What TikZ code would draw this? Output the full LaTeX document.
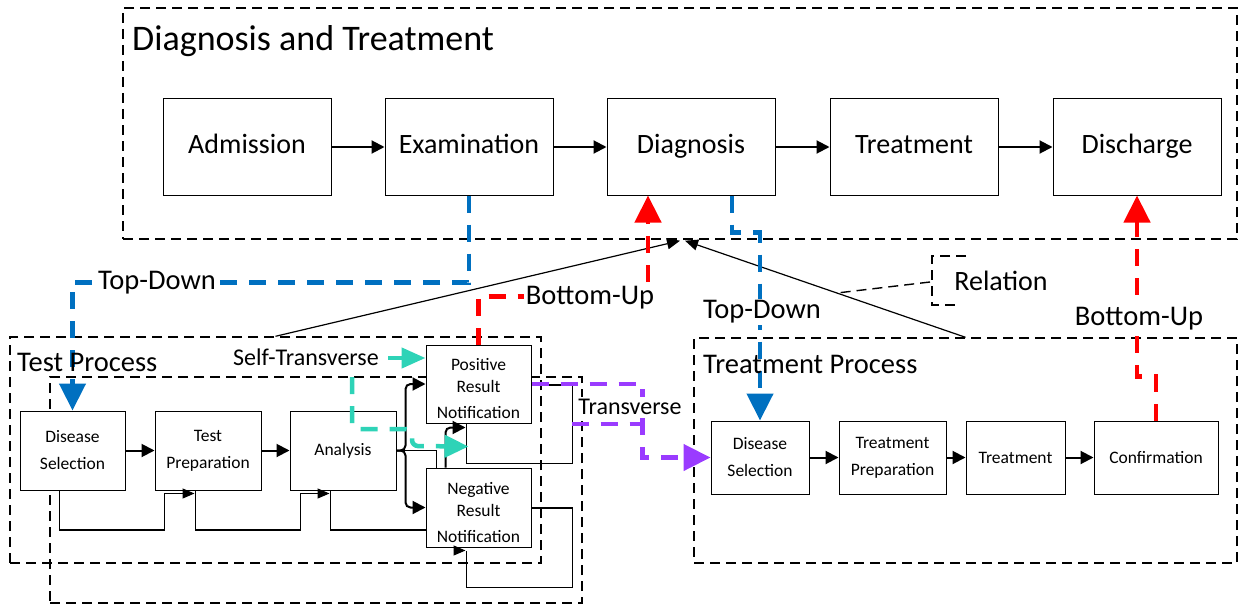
\documentclass[tikz,border=0pt]{standalone}
\usepackage{fontspec}
\setmainfont{Carlito}
\usetikzlibrary{arrows.meta,calc}
\definecolor{tdblue}{HTML}{0070C0}
\definecolor{bured}{HTML}{FF0000}
\definecolor{stcyan}{HTML}{2ED3B7}
\definecolor{trpurple}{HTML}{9A3BFF}
\begin{document}
\begin{tikzpicture}[x=1pt,y=-1pt,
  grp/.style={draw, line width=1.4pt, dash pattern=on 10pt off 6pt, inner sep=0pt},
  big/.style={draw, fill=white, line width=1pt, minimum width=168pt, minimum height=96pt, inner sep=0pt, text height=18pt, text depth=6pt, font=\fontsize{28}{32}\selectfont},
  sm/.style={draw, fill=white, line width=1pt, inner sep=0pt, align=center, font=\fontsize{17.5}{27}\selectfont},
  lab/.style={fill=white, inner sep=2pt, font=\fontsize{28.5}{32}\selectfont},
  labs/.style={fill=white, inner sep=2pt, font=\fontsize{24}{28}\selectfont},
  flow/.style={line width=2pt, -{Triangle[length=13pt,width=13pt]}},
  fb/.style={line width=1.2pt},
  fbt/.style={line width=1.2pt, -{Triangle[length=12pt,width=10pt]}},
  cdash/.style={line width=4.5pt, dash pattern=on 17pt off 12pt, -{Triangle[length=27pt,width=26pt]}},
]
\useasboundingbox (0,0) rectangle (1238,607);

% group boxes
\node[grp, minimum width=1114pt, minimum height=231pt] (dt) at (680,123.5) {};
\node[grp, minimum width=532pt, minimum height=226pt] (tp2) at (316,490) {};
\node[grp, minimum width=531pt, minimum height=226pt] (tp) at (275.5,450) {};
\node[grp, minimum width=543pt, minimum height=225pt] (trp) at (965.5,450.5) {};

% top row
\node[big] (adm) at (247,147) {Admission};
\node[big] (exam) at (469,147) {Examination};
\node[big] (diag) at (691,147) {Diagnosis};
\node[big] (treat) at (914,147) {Treatment};
\node[big] (disc) at (1137,147) {Discharge};

% test process
\node[sm, minimum width=105pt, minimum height=79pt] (ds) at (72.5,450.5) {Disease\\Selection};
\node[sm, minimum width=106pt, minimum height=79pt] (tprep) at (208,450.5) {Test\\Preparation};
\node[sm, minimum width=106pt, minimum height=79pt] (an) at (343,450.5) {Analysis};
\node[sm, minimum width=105pt, minimum height=78pt, font=\fontsize{17.5}{22}\selectfont] (pos) at (478.5,384) {\rule{0pt}{22pt}Positive\\Result\\[4pt]Notification};
\node[sm, minimum width=105pt, minimum height=79pt, font=\fontsize{17.5}{22}\selectfont] (neg) at (478.5,507.5) {\rule{0pt}{22pt}Negative\\Result\\[4pt]Notification};

% treatment process
\node[sm, minimum width=98pt, minimum height=73pt] (tds) at (760,457.5) {Disease\\Selection};
\node[sm, minimum width=107pt, minimum height=73pt] (trprep) at (892.5,457.5) {Treatment\\Preparation};
\node[sm, minimum width=99pt, minimum height=73pt] (trt) at (1015.5,457.5) {Treatment};
\node[sm, minimum width=124pt, minimum height=73pt] (conf) at (1156,457.5) {Confirmation};

% top flow
\draw[flow] (adm) -- (exam);
\draw[flow] (exam) -- (diag);
\draw[flow] (diag) -- (treat);
\draw[flow] (treat) -- (disc);

% treatment flow
\draw[flow] (tds) -- (trprep);
\draw[flow] (trprep) -- (trt);
\draw[flow] (trt) -- (conf);

% test flow
\draw[flow] (ds) -- (tprep);
\draw[flow] (tprep) -- (an);
\draw[flow, rounded corners=5pt] (an.east) -- ++(9,0) |- (pos.west);
\draw[flow, rounded corners=5pt] (an.east) -- ++(9,0) |- (neg.west);
\draw[fb] (an.east) -| ($(neg.north west)+(11,0)$);
\draw[flow, rounded corners=5pt] ($(neg.north west)+(20,0)$) -- ++(0,-40) -- ++(20,0);

% feedback loops
\draw[fbt] ($(ds.south west)+(40,0)$) -- ++(0,39.5) -| ($(tprep.south west)+(10,3)$) -- ++(30,0);
\draw[fbt] ($(tprep.south west)+(41,0)$) -- ++(0,39.5) -| ($(an.south west)+(11,3)$) -- ++(29,0);
\draw[fb] ($(an.south west)+(41,0)$) -- ++(0,39.5) -- (neg.west |- 0,530);
\draw[fb] ($(pos.east)+(0,1)$) -- ++(41,0) |- ($(pos.south west)+(41,40)$) -- ($(pos.south west)+(41,0)$);
\draw[fb] (neg.east |- 0,508) -- ++(41,0) |- ($(neg.south west)+(41,40)$) -- ($(neg.south west)+(41,3)$);
\draw[fbt] ($(neg.south west)+(28,3)$) -- ($(neg.south west)+(40,3)$);

% relation lines
\coordinate (c1) at ($(dt.south)+(0,1)$);
\coordinate (c2) at ($(dt.south)+(5,1)$);
\draw[line width=1.2pt, -{Triangle[length=13pt,width=11pt]}] (tp.north) -- (c1);
\draw[line width=1.2pt, -{Triangle[length=13pt,width=11pt]}] (trp.north) -- (c2);

% colored connectors
\draw[cdash, tdblue] (exam.south) -- ++(0,87) -| (ds.north);
\draw[cdash, tdblue] ($(diag.south)+(41,0)$) -- ++(0,37) -| (tds.north);
\draw[cdash, bured] (pos.north) -- ++(0,-48) -| ($(diag.south)+(-43,0)$);
\draw[cdash, bured] (conf.north) -- ++(0,-44) -| (disc.south);
\draw[cdash, trpurple] (pos.east) -- ++(111,0) |- (tds.west);
\draw[line width=4.5pt, dash pattern=on 17pt off 12pt, trpurple] ($(pos.east)+(40,40)$) -- ++(71,0);
\draw[line width=4.5pt, stcyan, -{Triangle[length=24pt,width=20pt]}] (388,358) -- (pos.west |- 0,358);
\draw[line width=4.5pt, stcyan, dash pattern=on 17pt off 12pt, rounded corners=6pt, -{Triangle[length=24pt,width=22pt]}] (352,377) -- (352,429) -- (412,429) -- (412,446) -- ($(pos.south west)+(43,23)$);

% relation bracket
\draw[line width=1.4pt, dash pattern=on 10pt off 6pt] (966,256) -- (932,256) -- (932,305) -- (960,305);
\node[font=\fontsize{28}{32}\selectfont, inner sep=0pt] (rel) at (1001,281) {Relation};
\draw[line width=1.4pt, dash pattern=on 10pt off 6pt] (930,282) -- (837,293);

% labels
\node[anchor=west, inner sep=0pt, font=\fontsize{36}{40}\selectfont] (ttl) at (132,41) {Diagnosis and Treatment};
\node[anchor=west, inner sep=0pt, font=\fontsize{28.5}{32}\selectfont] (tpl) at (17,362) {Test Process};
\node[anchor=west, inner sep=0pt, font=\fontsize{28.5}{32}\selectfont] (trl) at (703,364) {Treatment Process};
\node[lab] (td1) at (157,283) {Top-Down};
\node[lab] (td2) at (762,312) {Top-Down};
\node[lab] (bu1) at (590,298) {Bottom-Up};
\node[lab] (bu2) at (1139,319) {Bottom-Up};
\node[labs] (stl) at (306,357) {Self-Transverse};
\node[labs] (trl2) at (630,407) {Transverse};
\end{tikzpicture}
\end{document}
